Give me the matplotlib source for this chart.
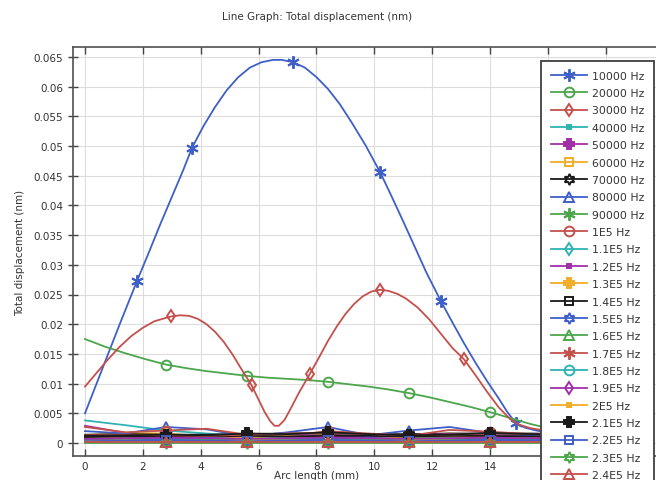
import matplotlib.pyplot as plt
from matplotlib.ticker import FuncFormatter

# ---- data ----
# 10000 Hz (blue, big arch)
x_10k = [0.0, 0.4, 0.8, 1.2, 1.8, 2.2, 2.6, 3.0, 3.4, 3.7, 4.1, 4.5, 4.9, 5.3, 5.7, 6.1,
         6.5, 6.8, 7.2, 7.6, 8.0, 8.4, 8.8, 9.2, 9.7, 10.2, 10.6, 11.0, 11.4, 11.8, 12.3,
         12.7, 13.1, 13.5, 13.9, 14.3, 14.6, 14.9, 15.2, 15.6, 16.2, 17.0, 18.0, 19.0, 19.6]
y_10k = [0.0050, 0.0100, 0.0150, 0.0200, 0.0273, 0.0320, 0.0368, 0.0414, 0.0460, 0.0497,
         0.0534, 0.0566, 0.0594, 0.0616, 0.0632, 0.0641, 0.0645, 0.0645, 0.0641, 0.0632,
         0.0616, 0.0596, 0.0571, 0.0541, 0.0501, 0.0456, 0.0415, 0.0373, 0.0330, 0.0287,
         0.0239, 0.0203, 0.0168, 0.0135, 0.0104, 0.0075, 0.0052, 0.0033, 0.0026, 0.0021,
         0.0016, 0.0013, 0.0011, 0.0010, 0.0010]
mk_10k = [4, 9, 18, 25, 30, 37]

# 20000 Hz (green, slow decay)
x_20k = [0, 0.7, 1.4, 2.1, 2.8, 3.5, 4.2, 4.9, 5.6, 6.3, 7.0, 7.7, 8.4, 9.1, 9.8, 10.5,
         11.2, 11.9, 12.6, 13.3, 14.0, 14.7, 15.4, 16.1, 16.8, 17.5, 18.2, 18.9, 19.6]
y_20k = [0.0175, 0.0162, 0.0151, 0.0141, 0.0132, 0.0126, 0.0121, 0.0117, 0.0113, 0.0110,
         0.0108, 0.0106, 0.0103, 0.0099, 0.0095, 0.0090, 0.0084, 0.0077, 0.0069, 0.0061,
         0.0052, 0.0042, 0.0032, 0.0024, 0.0019, 0.0016, 0.0014, 0.0013, 0.0012]
mk_20k = [4, 8, 12, 16, 20]

# 30000 Hz (red, two humps)
x_30k = [0.0, 0.4, 0.8, 1.2, 1.6, 2.0, 2.4, 2.97, 3.3, 3.6, 3.9, 4.2, 4.5, 4.8, 5.1, 5.4,
         5.76, 6.0, 6.2, 6.4, 6.55, 6.7, 6.9, 7.1, 7.4, 7.78, 8.1, 8.4, 8.7, 9.0, 9.3,
         9.6, 9.9, 10.2, 10.5, 10.8, 11.1, 11.5, 11.9, 12.3, 12.7, 13.1, 13.5, 13.9,
         14.3, 14.7, 15.0, 15.4, 16.0, 17.0, 18.0, 19.6]
y_30k = [0.0095, 0.0118, 0.0141, 0.0162, 0.0180, 0.0194, 0.0205, 0.0213, 0.0215, 0.0214,
         0.0209, 0.0200, 0.0187, 0.0170, 0.0149, 0.0125, 0.0097, 0.0073, 0.0053, 0.0037,
         0.0029, 0.0029, 0.0039, 0.0057, 0.0085, 0.0117, 0.0145, 0.0172, 0.0196, 0.0217,
         0.0234, 0.0247, 0.0255, 0.0258, 0.0256, 0.0251, 0.0243, 0.0228, 0.0208, 0.0184,
         0.0160, 0.0141, 0.0114, 0.0086, 0.0060, 0.0040, 0.0031, 0.0025, 0.0020, 0.0016,
         0.0014, 0.0012]
mk_30k = [7, 16, 25, 33, 41]

# the rest stay close to zero, sampled on a common grid
x_small = [0, 1.4, 2.8, 4.2, 5.6, 7.0, 8.4, 9.8, 11.2, 12.6, 14.0, 15.4, 16.8, 18.2, 19.6]
mk_small = [2, 4, 6, 8, 10]
y_40k = [0.0038, 0.0030, 0.0021, 0.0016, 0.0012, 0.0010, 0.0009, 0.0008, 0.0008, 0.0007, 0.0007, 0.0006, 0.0006, 0.0006, 0.0006]
y_50k = [0.0029, 0.0017, 0.0012, 0.0011, 0.0009, 0.0012, 0.0014, 0.0011, 0.0009, 0.0011, 0.0013, 0.0011, 0.0010, 0.0009, 0.0009]
y_60k = [0.0013, 0.0017, 0.0016, 0.0011, 0.0012, 0.0017, 0.0013, 0.0009, 0.0013, 0.0016, 0.0012, 0.0010, 0.0012, 0.0012, 0.0011]
y_70k = [0.0014, 0.0015, 0.0014, 0.0014, 0.0015, 0.0016, 0.0016, 0.0015, 0.0015, 0.0016, 0.0016, 0.0016, 0.0015, 0.0015, 0.0015]
y_80k = [0.0020, 0.0016, 0.0027, 0.0023, 0.0011, 0.0018, 0.0027, 0.0013, 0.0021, 0.0027, 0.0017, 0.0012, 0.0010, 0.0010, 0.0010]
y_90k = [0.0009, 0.0010, 0.0008, 0.0007, 0.0009, 0.0010, 0.0008, 0.0007, 0.0009, 0.0010, 0.0008, 0.0007, 0.0008, 0.0008, 0.0008]
y_100k = [0.0027, 0.0018, 0.0021, 0.0024, 0.0014, 0.0012, 0.0020, 0.0016, 0.0012, 0.0022, 0.0019, 0.0015, 0.0014, 0.0013, 0.0013]
y_110k = [0.0006, 0.0007, 0.0006, 0.0005, 0.0007, 0.0008, 0.0006, 0.0005, 0.0006, 0.0007, 0.0006, 0.0005, 0.0005, 0.0005, 0.0005]
y_120k = [0.0011, 0.0013, 0.0011, 0.0009, 0.0012, 0.0014, 0.0012, 0.0010, 0.0013, 0.0015, 0.0012, 0.0010, 0.0011, 0.0011, 0.0011]
y_130k = [0.0008, 0.0011, 0.0009, 0.0008, 0.0010, 0.0012, 0.0009, 0.0008, 0.0011, 0.0012, 0.0009, 0.0008, 0.0009, 0.0009, 0.0009]
y_140k = [0.0010, 0.0011, 0.0010, 0.0011, 0.0012, 0.0011, 0.0012, 0.0012, 0.0011, 0.0012, 0.0012, 0.0011, 0.0011, 0.0011, 0.0011]
y_150k = [0.0005, 0.0006, 0.0007, 0.0009, 0.0006, 0.0005, 0.0007, 0.0009, 0.0006, 0.0005, 0.0007, 0.0007, 0.0006, 0.0006, 0.0006]
y_160k = [0.0004, 0.0005, 0.0004, 0.0005, 0.0004, 0.0005, 0.0004, 0.0005, 0.0004, 0.0005, 0.0004, 0.0004, 0.0004, 0.0004, 0.0004]
y_170k = [0.0013, 0.0014, 0.0013, 0.0012, 0.0014, 0.0016, 0.0017, 0.0015, 0.0013, 0.0014, 0.0016, 0.0015, 0.0014, 0.0014, 0.0014]
y_180k = [0.0001, 0.0001, 0.0001, 0.0001, 0.0001, 0.0001, 0.0001, 0.0001, 0.0001, 0.0001, 0.0001, 0.0001, 0.0001, 0.0001, 0.0001]
y_190k = [0.0007, 0.0008, 0.0009, 0.0008, 0.0007, 0.0008, 0.0009, 0.0008, 0.0007, 0.0008, 0.0009, 0.0008, 0.0008, 0.0008, 0.0008]
y_200k = [0.0003, 0.0004, 0.0003, 0.0003, 0.0004, 0.0004, 0.0003, 0.0003, 0.0004, 0.0004, 0.0003, 0.0003, 0.0003, 0.0003, 0.0003]
y_210k = [0.0012, 0.0013, 0.0014, 0.0013, 0.0016, 0.0015, 0.0018, 0.0015, 0.0013, 0.0014, 0.0017, 0.0015, 0.0014, 0.0014, 0.0014]
y_220k = [0.0003, 0.0004, 0.0005, 0.0004, 0.0003, 0.0004, 0.0005, 0.0004, 0.0003, 0.0004, 0.0005, 0.0004, 0.0004, 0.0004, 0.0004]
y_230k = [0.0000, 0.0000, 0.0000, 0.0000, 0.0000, 0.0000, 0.0000, 0.0000, 0.0000, 0.0000, 0.0000, 0.0000, 0.0000, 0.0000, 0.0000]
y_240k = [0.0002, 0.0002, 0.0002, 0.0002, 0.0002, 0.0002, 0.0002, 0.0002, 0.0002, 0.0002, 0.0002, 0.0002, 0.0002, 0.0002, 0.0002]

labels = ["10000 Hz", "20000 Hz", "30000 Hz", "40000 Hz", "50000 Hz", "60000 Hz",
          "70000 Hz", "80000 Hz", "90000 Hz", "1E5 Hz", "1.1E5 Hz", "1.2E5 Hz",
          "1.3E5 Hz", "1.4E5 Hz", "1.5E5 Hz", "1.6E5 Hz", "1.7E5 Hz", "1.8E5 Hz",
          "1.9E5 Hz", "2E5 Hz", "2.1E5 Hz", "2.2E5 Hz", "2.3E5 Hz", "2.4E5 Hz"]
x_ticks = [0, 2, 4, 6, 8, 10, 12, 14, 16, 18, 20]
x_ticklabels = ["0", "2", "4", "6", "8", "10", "12", "14", "", "", ""]  # rest sit under the legend

# COMSOL-like colour / marker cycle
BLUE, GREEN, RED, CYAN = "#3f5fc8", "#4ca64c", "#c4504c", "#2fb3b3"
PURPLE, ORANGE, BLACK = "#a030a8", "#f0ae2a", "#1a1a1a"
colours = [BLUE, GREEN, RED, CYAN, PURPLE, ORANGE, BLACK]
ASTER = (6, 2, 0)
STAR6 = (6, 1, 0)
# (marker, filled, size)
marks = [(ASTER, True, 9), ("o", False, 7), ("d", False, 6.5), ("s", True, 3.5),
         ("P", True, 6.5), ("s", False, 6), (STAR6, False, 8), ("^", False, 7)]

series = [(x_10k, y_10k, mk_10k), (x_20k, y_20k, mk_20k), (x_30k, y_30k, mk_30k)]
for ys in [y_40k, y_50k, y_60k, y_70k, y_80k, y_90k, y_100k, y_110k, y_120k, y_130k,
           y_140k, y_150k, y_160k, y_170k, y_180k, y_190k, y_200k, y_210k, y_220k,
           y_230k, y_240k]:
    series.append((x_small, ys, mk_small))

W, H = 656, 481
fig = plt.figure(figsize=(W / 100, H / 100), dpi=100)
# axes runs off the right edge, like the cropped screenshot
ax = fig.add_axes([73 / W, (H - 457) / H, (700 - 73) / W, (457 - 48) / H])

for i, (xs, ys, mk) in enumerate(series):
    c = colours[i % 7]
    m, filled, ms = marks[i % 8]
    ax.plot(xs, ys, color=c, lw=1.3, marker=m, markevery=mk, markersize=ms,
            markerfacecolor=c if filled else "none", markeredgecolor=c,
            markeredgewidth=1.4, label=labels[i])

px_per_unit = 28.93
xmin = -(85 - 73) / px_per_unit
ax.set_xlim(xmin, xmin + (700 - 73) / px_per_unit)
ax.set_ylim(-(457 - 444) / 5940, (444 - 48) / 5940)
ax.set_xticks(x_ticks)
ax.set_xticklabels(x_ticklabels)
ax.set_yticks([k * 0.005 for k in range(14)])
ax.yaxis.set_major_formatter(FuncFormatter(lambda v, p: f"{round(v, 4):g}"))

txt = "#333333"
ax.tick_params(axis="x", direction="in", top=True, length=5, width=1, labelsize=7.5,
               colors="#444444", labelcolor=txt)
ax.tick_params(axis="y", direction="inout", length=7, width=1, labelsize=7.5,
               colors="#444444", labelcolor=txt)
ax.grid(True, color="#dcdcdc", lw=0.8)
ax.set_axisbelow(True)
for s in ax.spines.values():
    s.set_color("#505050")
    s.set_linewidth(1.2)

fig.text(317 / W, 1 - 17 / H, "Line Graph: Total displacement (nm)", ha="center",
         va="center", fontsize=7.5, color=txt)
fig.text(317 / W, 1 - 476 / H, "Arc length (mm)", ha="center", va="center",
         fontsize=7.5, color=txt)
fig.text(20 / W, 1 - 253 / H, "Total displacement (nm)", ha="center", va="center",
         rotation=90, fontsize=7.5, color=txt)

leg = fig.legend(loc="upper left", bbox_to_anchor=(541 / W, 1 - 62 / H), borderaxespad=0,
                 fontsize=7.8, handlelength=3.3, handletextpad=0.5, labelspacing=0.68,
                 borderpad=0.9, fancybox=False, framealpha=1, edgecolor="#404040",
                 numpoints=1)
leg.get_frame().set_linewidth(1.3)
for t in leg.get_texts():
    t.set_color(txt)

fig.savefig("out.png", dpi=100)
